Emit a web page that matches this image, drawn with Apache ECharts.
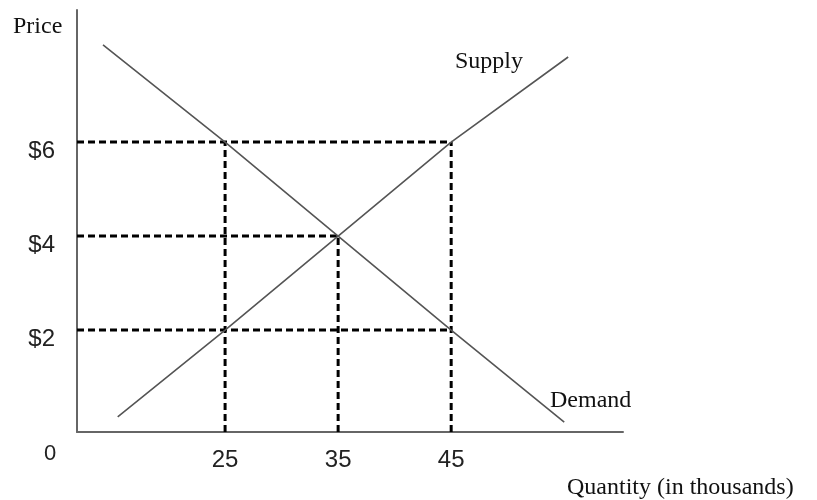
<!DOCTYPE html>
<html>
<head>
<meta charset="utf-8">
<script src="https://cdn.jsdelivr.net/npm/echarts@6/dist/echarts.min.js"></script>
<style>html,body{margin:0;padding:0;background:#fff}#c{width:817px;height:500px}</style>
</head>
<body>
<div id="c"></div>
<script>
// ---- data ----
const quantityTicks = [25, 35, 45];
const priceTicks = [2, 4, 6];
const supplyQty = [15.5, 25, 35, 45, 55.35];
const supplyPrice = [0.15, 2, 4, 6, 7.81];
const demandQty = [14.2, 25, 35, 45, 55.0];
const demandPrice = [8.07, 6, 4, 2, 0.04];
// dashed guides
const hGuidePrice = [6, 4, 2];
const hGuideEndQty = [45, 35, 45];
const vGuideQty = [25, 35, 45];
const vGuideTopPrice = [6, 4, 6];

const xMin = 11.9, xMax = 60.2, yMin = -0.17, yMax = 8.81;

const chart = echarts.init(document.getElementById('c'), null, {renderer: 'canvas'});
const sans = 'Liberation Sans';
const guideStyle = {color: '#000', width: 3, type: [7, 4]};
const series = [];
hGuidePrice.forEach((p, i) => {
  series.push({type: 'line', data: [[xMin, p], [hGuideEndQty[i], p]], symbol: 'none', lineStyle: guideStyle, silent: true, z: 2});
});
vGuideQty.forEach((q, i) => {
  series.push({type: 'line', data: [[q, yMin], [q, vGuideTopPrice[i]]], symbol: 'none', lineStyle: guideStyle, silent: true, z: 2});
});
series.push({name: 'Supply', type: 'line', data: supplyQty.map((q, i) => [q, supplyPrice[i]]), symbol: 'none', lineStyle: {color: '#555', width: 1.6}, z: 3});
series.push({name: 'Demand', type: 'line', data: demandQty.map((q, i) => [q, demandPrice[i]]), symbol: 'none', lineStyle: {color: '#555', width: 1.6}, z: 3});

chart.setOption({
  animation: false,
  backgroundColor: '#fff',
  grid: {left: 77, top: 10, width: 546, height: 422, containLabel: false},
  xAxis: {
    type: 'value', min: xMin, max: xMax,
    axisLine: {show: true, onZero: false, lineStyle: {color: '#666', width: 2}},
    axisTick: {show: false}, splitLine: {show: false},
    axisLabel: {customValues: quantityTicks, fontFamily: sans, fontSize: 24, color: '#222', margin: 16}
  },
  yAxis: {
    type: 'value', min: yMin, max: yMax,
    axisLine: {show: true, onZero: false, lineStyle: {color: '#666', width: 2}},
    axisTick: {show: false}, splitLine: {show: false},
    axisLabel: {customValues: priceTicks, formatter: v => '$' + v, fontFamily: sans, fontSize: 24, color: '#222', margin: 22, verticalAlign: 'top', lineHeight: 18}
  },
  graphic: [
    {type: 'text', left: 13, top: 15, style: {text: 'Price', font: '24px "Liberation Serif"', fill: '#111'}},
    {type: 'text', left: 455, top: 50, style: {text: 'Supply', font: '24px "Liberation Serif"', fill: '#111'}},
    {type: 'text', left: 550, top: 389, style: {text: 'Demand', font: '24px "Liberation Serif"', fill: '#111'}},
    {type: 'text', left: 567, top: 476, style: {text: 'Quantity (in thousands)', font: '24px "Liberation Serif"', fill: '#111'}},
    {type: 'text', left: 44, top: 443, style: {text: '0', font: '22px "Liberation Sans"', fill: '#222'}}
  ],
  series: series
});
</script>
</body>
</html>
